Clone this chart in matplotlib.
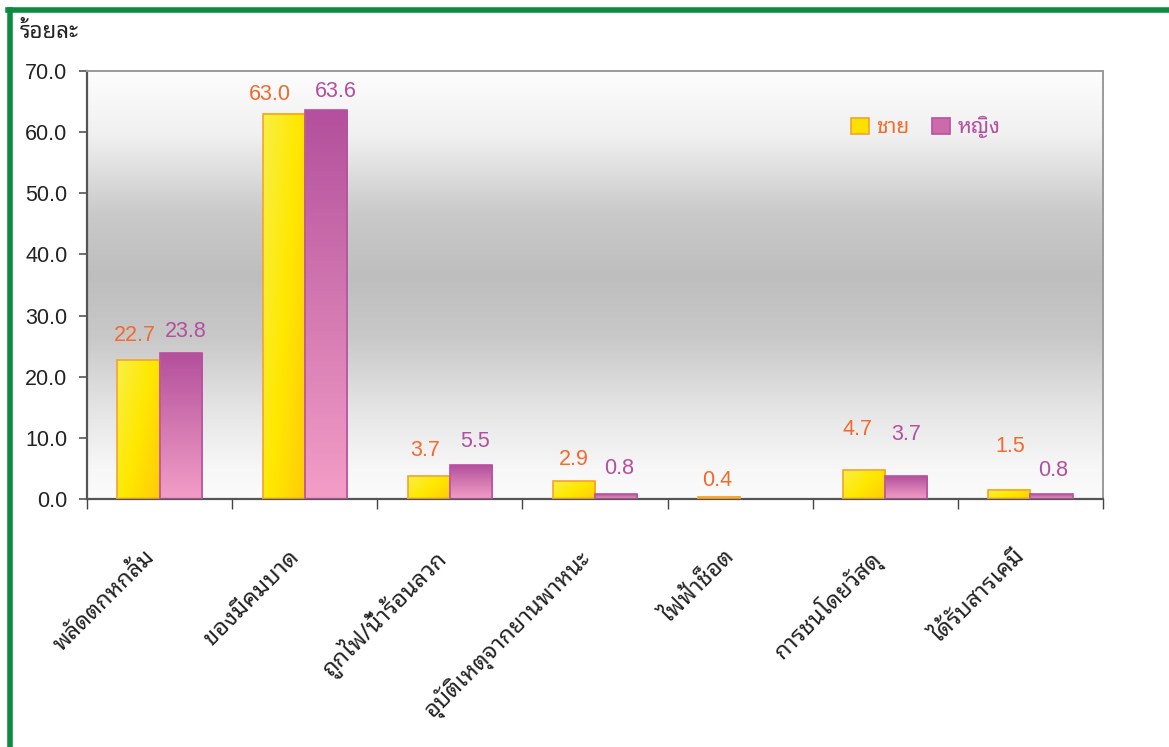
import numpy as np
import matplotlib
matplotlib.use("Agg")
import matplotlib.pyplot as plt
import matplotlib.transforms as mtransforms
from matplotlib import font_manager as fm
from matplotlib.ft2font import FT2Font
from matplotlib.colors import LinearSegmentedColormap
from matplotlib.patches import Patch
from matplotlib.lines import Line2D

# ---------------- data ----------------
categories = ["พลัดตกหกล้ม", "ของมีคมบาด", "ถูกไฟ/น้ำร้อนลวก", "อุบัติเหตุจากยานพาหนะ",
              "ไฟฟ้าช็อต", "การชนโดยวัสดุ", "ได้รับสารเคมี"]
male = [22.7, 63.0, 3.7, 2.9, 0.4, 4.7, 1.5]
female = [23.8, 63.6, 5.5, 0.8, None, 3.7, 0.8]
series_names = ["ชาย", "หญิง"]
y_title = "ร้อยละ"
y_ticks = [0, 10, 20, 30, 40, 50, 60, 70]

# label offsets (pixels) relative to bar top centre
male_off = [(-4, 25), (-14, 19), (-4, 26), (0, 22), (-2, 16), (-7, 41), (1, 43)]
female_off = [(5, 22), (10, 19), (4, 24), (3, 26), (0, 0), (0, 42), (2, 24)]

# ---------------- fonts ----------------
def find_thai():
    prefs = ["Noto Sans Thai Looped", "Loma", "Garuda", "Waree", "Tlwg Typo", "Umpush",
             "Sarabun", "Kinnari", "Norasi", "Noto Sans Thai", "Noto Sans Thai UI"]
    found = []
    for f in fm.fontManager.ttflist:
        try:
            cm = FT2Font(f.fname).get_charmap()
        except Exception:
            continue
        if 0x0E01 in cm and 0x0E49 in cm:
            found.append(f.name)
    for p in prefs:
        if p in found:
            return p
    return found[0] if found else None

thai = find_thai()
fam = ([thai] if thai else []) + ["DejaVu Sans"]
num_fam = ["Liberation Sans", "DejaVu Sans"]
plt.rcParams["font.family"] = fam

# ---------------- figure ----------------
W, H = 1169, 747
fig = plt.figure(figsize=(W / 100, H / 100), dpi=100)
fig.patch.set_facecolor("white")

L, R, T, B = 87, 1103, 71, 499
pos = [L / W, 1 - B / H, (R - L) / W, (B - T) / H]

# background gradient axes
bg = fig.add_axes(pos, zorder=0)
stops = [(0.0, "#fdfdfd"), (0.15, "#f0f0f0"), (0.33, "#cacaca"), (0.48, "#bebebe"),
         (0.62, "#c8c8c8"), (0.8, "#e6e6e6"), (0.93, "#f7f7f7"), (1.0, "#fbfbfb")]
bgcmap = LinearSegmentedColormap.from_list("bg", stops)
bg.imshow(np.linspace(0, 1, 256).reshape(-1, 1), cmap=bgcmap, aspect="auto",
          extent=[0, 1, 0, 1], interpolation="bilinear")
bg.set_axis_off()

ax = fig.add_axes(pos, zorder=1)
ax.patch.set_alpha(0)

n = len(categories)
x = np.arange(n)
bw = 0.29

ycmap = LinearSegmentedColormap.from_list("y", ["#f8ef45", "#ffe800", "#ffcb08"])
pcmap = LinearSegmentedColormap.from_list("p", ["#b4509d", "#d378b1", "#f39dc7"])

gx, gy = np.meshgrid(np.linspace(0, 1, 40), np.linspace(0, 1, 80))  # gy: 0 top ->1 bottom
ygrad = np.clip(0.6 * gx + 0.4 * gy, 0, 1)
pgrad = gy

def draw_bars(vals, offset, cmap, grad, edge):
    for i, v in enumerate(vals):
        if v is None:
            continue
        bars = ax.bar(x[i] + offset, v, width=bw, facecolor="none", edgecolor=edge,
                      linewidth=1.2, zorder=3)
        r = bars[0]
        x0, w, h = r.get_x(), r.get_width(), r.get_height()
        ax.imshow(grad, cmap=cmap, aspect="auto", extent=[x0, x0 + w, 0, h],
                  interpolation="bilinear", zorder=2, vmin=0, vmax=1)

draw_bars(male, -bw / 2, ycmap, ygrad, "#f4a330")
draw_bars(female, bw / 2, pcmap, pgrad, "#b8519f")

ax.set_xlim(-0.5, n - 0.5)
ax.set_ylim(0, 70)

# value labels
for i, v in enumerate(male):
    if v is None:
        continue
    ax.annotate(f"{v:.1f}", (x[i] - bw / 2, v), xytext=male_off[i], textcoords="offset pixels",
                ha="center", va="center", fontsize=15.5, color="#f26a2c", family=num_fam, zorder=5)
for i, v in enumerate(female):
    if v is None:
        continue
    ax.annotate(f"{v:.1f}", (x[i] + bw / 2, v), xytext=female_off[i], textcoords="offset pixels",
                ha="center", va="center", fontsize=15.5, color="#b24fa0", family=num_fam, zorder=5)

# spines
for s in ["left", "bottom"]:
    ax.spines[s].set_color("#555555")
    ax.spines[s].set_linewidth(1.6)
for s in ["top", "right"]:
    ax.spines[s].set_color("#9a9a9a")
    ax.spines[s].set_linewidth(1.4)

ax.set_yticks(y_ticks)
ax.set_yticklabels([f"{t:.1f}" for t in y_ticks], fontsize=15.5, color="#222222", family=num_fam)
ax.tick_params(axis="y", length=6, width=1.2, color="#555555", pad=8)

ax.set_xticks(x)
ax.set_xticklabels(categories, rotation=45, ha="right", rotation_mode="anchor",
                   fontsize=17, color="#222222")
ax.tick_params(axis="x", which="major", length=0, pad=33)
shift = mtransforms.ScaledTranslation(-17 / 100, 0, fig.dpi_scale_trans)
for lab in ax.get_xticklabels():
    lab.set_transform(lab.get_transform() + shift)
ax.set_xticks(np.arange(n + 1) - 0.5, minor=True)
ax.tick_params(axis="x", which="minor", length=7, width=1.0, color="#444444", direction="out")

# legend
handles = [Patch(facecolor="#ffe000", edgecolor="#f4a330", linewidth=1.2),
           Patch(facecolor="#cc6aaa", edgecolor="#b8519f", linewidth=1.2)]
leg = ax.legend(handles, series_names, loc="center left", bbox_to_anchor=(0.752, 0.869),
                ncol=2, frameon=False, fontsize=15, handlelength=0.85, handleheight=0.85,
                handletextpad=0.35, columnspacing=1.1, borderaxespad=0, borderpad=0)
for t, c in zip(leg.get_texts(), ["#f26a2c", "#b24fa0"]):
    t.set_color(c)

# y axis title
fig.text(20 / W, 1 - 32 / H, y_title, fontsize=16, color="#222222", ha="left", va="center",
         weight="bold")

# green frame (extends off the right and bottom of the image)
fig.add_artist(Line2D([10 / W, 10 / W], [0, 1 - 10 / H], color="#0d8a42", linewidth=4,
                      transform=fig.transFigure))
fig.add_artist(Line2D([8 / W, 1], [1 - 10 / H, 1 - 10 / H], color="#0d8a42", linewidth=4,
                      transform=fig.transFigure))

fig.savefig("out.png", dpi=100)
